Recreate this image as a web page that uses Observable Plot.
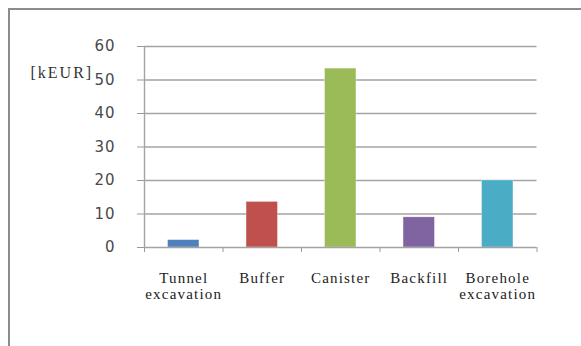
<!DOCTYPE html>
<html>
<head>
<meta charset="utf-8">
<script src="https://cdn.jsdelivr.net/npm/d3@7"></script>
<script src="https://cdn.jsdelivr.net/npm/@observablehq/plot@0.6"></script>
<style>
  html, body { margin: 0; padding: 0; background: #fff; overflow: hidden; }
  #wrap { position: relative; width: 581px; height: 346px; overflow: hidden; }
  #border { position: absolute; left: 8px; top: 8px; width: 600px; height: 400px;
            border-left: 2px solid #8c8c8c; border-top: 2px solid #8c8c8c; box-sizing: border-box; }
  #chart { position: absolute; left: 0; top: 0; }
</style>
</head>
<body>
<div id="wrap"><div id="border"></div><div id="chart"></div></div>
<script>
const categories = ["Tunnel\nexcavation", "Buffer", "Canister", "Backfill", "Borehole\nexcavation"];
const values = [2.2, 13.6, 53.4, 9.0, 20.0];
const colors = ["#4F81BD", "#C0504D", "#9BBB59", "#8064A2", "#4BACC6"];
const yTicks = [0, 10, 20, 30, 40, 50, 60];
const unitLabel = "[kEUR]";

const data = categories.map((c, i) => ({cat: c, value: values[i], color: colors[i], idx: i}));
const gridColor = "#a3a3a3";
const serif = '"Liberation Serif", "DejaVu Serif", serif';

const chart = Plot.plot({
  width: 581,
  height: 346,
  marginLeft: 144,
  marginRight: 44.5,
  marginTop: 46,
  marginBottom: 99,
  style: {background: "transparent", fontFamily: "DejaVu Sans", fontSize: "15px", color: "#999", overflow: "visible"},
  x: {domain: [0, categories.length], ticks: d3.range(categories.length + 1), tickSize: 5, tickFormat: () => "", label: null},
  y: {domain: [0, 60], ticks: yTicks, tickSize: 7, tickPadding: 22, label: null},
  color: {type: "identity"},
  marks: [
    Plot.ruleY(yTicks.filter(t => t > 0), {stroke: gridColor, strokeWidth: 1.4}),
    Plot.rectY(data, {x1: d => d.idx + 0.3, x2: d => d.idx + 0.7, y1: 0, y2: "value", fill: "color", stroke: "#ffffff", strokeOpacity: 0.5, strokeWidth: 0.6}),
    Plot.ruleY([0], {stroke: gridColor, strokeWidth: 1.4}),
    Plot.ruleX([0], {stroke: gridColor, strokeWidth: 1.4}),
    Plot.text(data, {x: d => d.idx + 0.5, y: 0, text: "cat", dy: 24, lineAnchor: "top", lineHeight: 1.07,
      fontSize: 15, fill: "#222"}),
    Plot.text([unitLabel], {frameAnchor: "top-left", dx: -114, dy: 26, textAnchor: "start", lineAnchor: "middle",
      fontSize: 16, fill: "#333"})
  ]
});
document.getElementById("chart").appendChild(chart);
const svg = d3.select(chart);
svg.selectAll('g[aria-label="text"] text').each(function() {
  const t = d3.select(this);
  const isUnit = this.textContent.trim() === unitLabel;
  t.style("font-family", serif).style("letter-spacing", isUnit ? "2px" : "1.2px");
});
svg.selectAll('g[aria-label^="y-axis"] text').style("fill", "#4a4a4a").style("letter-spacing", "1px");
</script>
</body>
</html>
